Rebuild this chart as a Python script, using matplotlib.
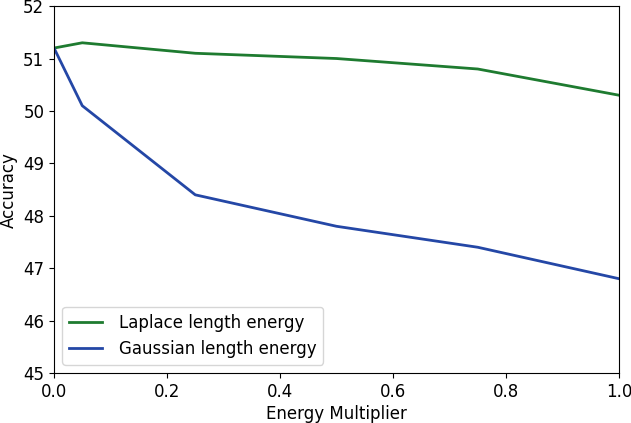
import matplotlib
matplotlib.use("Agg")
import matplotlib.pyplot as plt

multipliers = [0.0, 0.05, 0.25, 0.5, 0.75, 1.0]
laplace_acc = [51.2, 51.3, 51.1, 51.0, 50.8, 50.3]
gaussian_acc = [51.2, 50.1, 48.4, 47.8, 47.4, 46.8]

fig = plt.figure(figsize=(6.31, 4.23), dpi=100)
ax = fig.add_axes([0.0856, 0.118, 0.8954, 0.8676])

ax.plot(multipliers, laplace_acc, color="#1e7b30", linewidth=2, label="Laplace length energy")
ax.plot(multipliers, gaussian_acc, color="#2447a6", linewidth=2, label="Gaussian length energy")

ax.set_xlim(0, 1)
ax.set_ylim(45, 52)
ax.set_xlabel("Energy Multiplier", fontsize=12, labelpad=3)
ax.set_ylabel("Accuracy", fontsize=12, labelpad=4)
ax.tick_params(labelsize=12)
ax.legend(loc="lower left", fontsize=12, handletextpad=1.0)

fig.savefig("out.png", dpi=100)
